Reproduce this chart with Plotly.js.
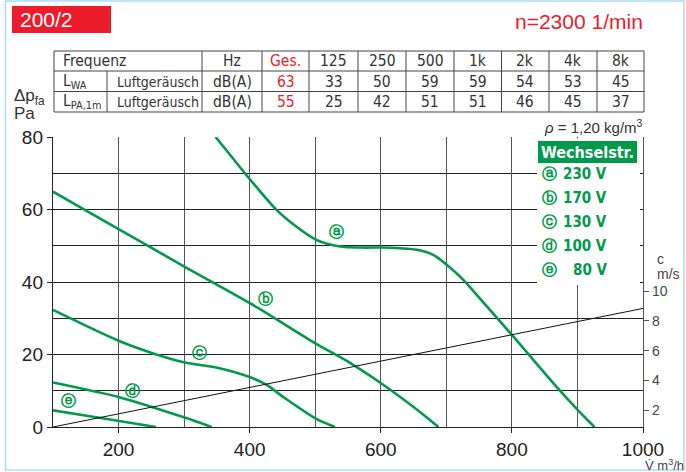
<!DOCTYPE html>
<html><head><meta charset="utf-8">
<script src="https://cdn.plot.ly/plotly-3.0.1.min.js"></script>
<style>html,body{margin:0;padding:0;background:#fff}#chart{width:686px;height:472px}</style>
</head><body><div id="chart"></div>
<script>
// ---- data ----
const curveNames = ['230 V','170 V','130 V','100 V','80 V'];
const curveTags  = ['ⓐ','ⓑ','ⓒ','ⓓ','ⓔ'];
const aV = [348, 370, 401, 441, 471, 502, 538, 570, 601, 630, 655, 680, 701, 726, 751, 800, 873, 901, 926];
const aP = [80, 75.1, 68.2, 59.9, 55.3, 51.6, 49.8, 49.5, 49.5, 49.3, 48.9, 47.5, 44.7, 40.6, 35.5, 25.4, 10.1, 4.6, 0];
const bV = [100, 200, 301, 401, 501, 553, 601, 650, 688];
const bP = [64.9, 54.6, 44.2, 34.1, 23.0, 17.7, 12.0, 5.5, 0];
const cV = [100, 200, 253, 301, 349, 401, 426, 451, 501, 530];
const cP = [32.3, 23.8, 20.3, 17.8, 16.4, 13.7, 11.6, 8.3, 2.3, 0];
const dV = [100, 200, 253, 301, 342];
const dP = [12.3, 8.3, 5.4, 2.6, 0];
const eV = [100, 180, 257];
const eP = [4.6, 2.3, 0];
const tagV = [533, 424, 323, 222, 123];
const tagP = [53.9, 35.2, 20.5, 10.0, 7.1];
// air velocity line (right axis, m/s)
const velV = [100, 1000];
const velC = [0.884, 8.84];
// sound table
const freqHead = ['Hz', 'Ges.', '125', '250', '500', '1k', '2k', '4k', '8k'];
const lwaRow   = ['dB(A)', '63', '33', '50', '59', '59', '54', '53', '45'];
const lpaRow   = ['dB(A)', '55', '25', '42', '51', '51', '46', '45', '37'];
const xTicks = [200, 400, 600, 800, 1000];
const cTicks = [2, 4, 6, 8, 10];

// ---- layout helpers ----
const L = 53, R = 643, T = 137, B = 427;
const fx = px => (px - L) / (R - L);
const fy = py => (B - py) / (B - T);
const GREEN = '#009a4a', RED = '#ec1c2a';
const NARROW = '"Liberation Sans Narrow", "Arial Narrow", "DejaVu Sans Condensed", sans-serif';
const SANS = '"Liberation Sans", Arial, Helvetica, sans-serif';
const TAGF = '"DejaVu Sans", sans-serif';

const series = [[aV,aP],[bV,bP],[cV,cP],[dV,dP],[eV,eP]];
const traces = series.map((s, i) => ({
  x: s[0], y: s[1], type: 'scatter', mode: 'lines', name: curveNames[i],
  line: {color: GREEN, width: 2.6, shape: 'spline', smoothing: 0.8},
  hoverinfo: 'skip', showlegend: false
}));
traces.push({x: velV, y: velC, yaxis: 'y2', type: 'scatter', mode: 'lines',
  line: {color: '#111', width: 1}, showlegend: false, hoverinfo: 'skip'});

const shapes = [];
const annotations = [];
function hline(x0, x1, y, color, w) {
  shapes.push({type: 'line', xref: 'paper', yref: 'paper', x0: fx(x0), x1: fx(x1), y0: fy(y), y1: fy(y), line: {color: color, width: w}});
}
function vline(x, y0, y1, color, w) {
  shapes.push({type: 'line', xref: 'paper', yref: 'paper', x0: fx(x), x1: fx(x), y0: fy(y0), y1: fy(y1), line: {color: color, width: w}});
}
function text(t, x, y, size, color, anchor, fam, extra) {
  annotations.push(Object.assign({text: t, xref: 'paper', yref: 'paper', x: fx(x), y: fy(y), xanchor: anchor || 'left', yanchor: 'middle',
    showarrow: false, font: {size: size, color: color, family: fam || SANS}}, extra || {}));
}

// outer light-blue frame
shapes.push({type: 'rect', xref: 'paper', yref: 'paper', x0: fx(5.5), x1: fx(684), y0: fy(1), y1: fy(470), line: {color: '#a9dcf2', width: 1.5}, layer: 'below'});
// title box
shapes.push({type: 'rect', xref: 'paper', yref: 'paper', x0: fx(12), x1: fx(111), y0: fy(6), y1: fy(33), fillcolor: RED, line: {width: 0}});
text('200/2', 18, 20, 21, '#fff', 'left', SANS);
text('n=2300 1/min', 645, 21, 21, RED, 'right', SANS);

// sound table
const rowsY = [51, 71, 91.5, 112];
const colsX = [202, 262, 309, 358, 406, 454, 501.5, 549, 597, 644];
rowsY.forEach(y => hline(54, 644, y, '#444', 1));
vline(54, 51, 112, '#444', 1);
vline(107, 71, 112, '#444', 1);
colsX.forEach(x => vline(x, 51, 112, '#444', 1));
const rc = [61, 81.5, 102];
text('Frequenz', 61, rc[0], 15.5, '#333', 'left', NARROW);
text('L<sub>WA</sub>', 61, rc[1], 15.5, '#333', 'left', NARROW);
text('L<sub>PA,1m</sub>', 61, rc[2], 15.5, '#333', 'left', NARROW);
text('Luftgeräusch', 115, rc[1], 14, '#333', 'left', NARROW);
text('Luftgeräusch', 115, rc[2], 14, '#333', 'left', NARROW);
[freqHead, lwaRow, lpaRow].forEach((row, r) => {
  row.forEach((v, c) => {
    const cx = (colsX[c] + colsX[c + 1]) / 2;
    text(v, cx, rc[r], 15.5, c === 1 ? RED : '#333', 'center', NARROW);
  });
});

// axis captions
text('Δp<sub>fa</sub>', 12, 97, 17, '#333', 'left', SANS);
text('Pa', 12, 114, 17, '#333', 'left', SANS);
text('<i>ρ</i> = 1,20 kg/m<sup>3</sup>', 645, 126, 15, '#333', 'right', SANS);
text('c', 655, 259, 14, '#444', 'left', SANS);
text('m/s', 655, 274, 14, '#444', 'left', SANS);
text('V\u0307 m<sup>3</sup>/h', 643, 465, 13, '#444', 'left', SANS);

// legend box
shapes.push({type: 'rect', xref: 'paper', yref: 'paper', x0: fx(537), x1: fx(640), y0: fy(285), y1: fy(138.5), fillcolor: '#fff', line: {width: 0}, layer: 'above'});
shapes.push({type: 'rect', xref: 'paper', yref: 'paper', x0: fx(538), x1: fx(637), y0: fy(163), y1: fy(141), fillcolor: GREEN, line: {width: 0}, layer: 'above'});
text('<b>Wechselstr.</b>', 587, 152.5, 16, '#fff', 'center', NARROW);
curveNames.forEach((n, i) => {
  const y = 174 + i * 24;
  text('<b>' + curveTags[i] + '</b>', 549, y, 15, GREEN, 'center', TAGF);
  text('<b>' + n + '</b>', 609, y, 15, GREEN, 'right', NARROW);
});
// curve tags in chart
curveTags.forEach((t, i) => {
  annotations.push({text: '<b>' + t + '</b>', xref: 'x', yref: 'y', x: tagV[i], y: tagP[i], showarrow: false,
    font: {size: 15, color: GREEN, family: TAGF}});
});

const layout = {
  width: 686, height: 472,
  margin: {l: L, r: 686 - R, t: T, b: 472 - B, pad: 0},
  paper_bgcolor: '#fff', plot_bgcolor: '#fff',
  showlegend: false,
  xaxis: {range: [100, 1000], tickvals: xTicks, ticks: 'outside', ticklen: 5, tickcolor: '#222',
    showgrid: true, gridcolor: '#555', gridwidth: 1,
    minor: {dtick: 100, tick0: 0, showgrid: true, gridcolor: '#555', gridwidth: 1, ticks: ''},
    showline: true, linecolor: '#222', linewidth: 1.2, zeroline: false,
    tickfont: {size: 19, color: '#222', family: SANS}},
  yaxis: {range: [0, 80], dtick: 20, ticks: 'outside', ticklen: 5, tickcolor: '#222',
    showgrid: true, gridcolor: '#222', gridwidth: 1,
    minor: {dtick: 10, showgrid: true, gridcolor: '#222', gridwidth: 1, ticks: ''},
    showline: true, linecolor: '#222', linewidth: 1.2, zeroline: false,
    tickfont: {size: 19, color: '#222', family: SANS}},
  yaxis2: {overlaying: 'y', side: 'right', range: [0.884, 20.34], tickvals: cTicks,
    ticks: 'outside', ticklen: 5, tickcolor: '#555', showgrid: false, zeroline: false,
    showline: true, linecolor: '#555', linewidth: 1.2,
    tickfont: {size: 14, color: '#444', family: SANS}},
  shapes: shapes,
  annotations: annotations
};
Plotly.newPlot('chart', traces, layout, {staticPlot: true, displayModeBar: false});
</script></body></html>
